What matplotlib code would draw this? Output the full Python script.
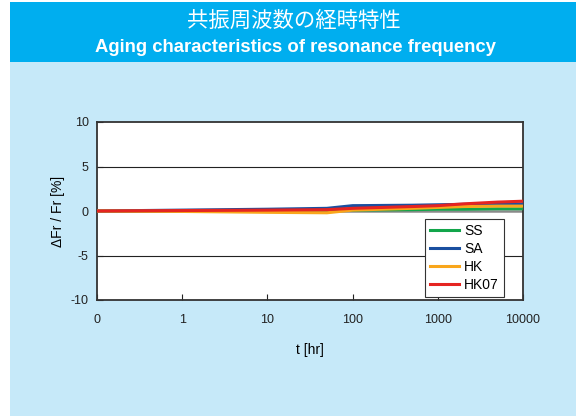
import numpy as np
import matplotlib
matplotlib.use("Agg")
from matplotlib import pyplot as plt
from matplotlib.patches import Rectangle

plt.rcParams['font.family'] = ['Liberation Sans', 'Noto Sans CJK JP', 'DejaVu Sans']
plt.rcParams['axes.unicode_minus'] = False

# hours since start
t = [0, 1, 10, 50, 100, 500, 1000, 2000, 5000, 10000]
ss = [0, 0.0, 0.05, 0.1, 0.1, 0.15, 0.2, 0.2, 0.25, 0.25]
sa = [0, 0.1, 0.2, 0.3, 0.6, 0.65, 0.7, 0.75, 0.8, 0.8]
hk = [0, -0.05, -0.15, -0.2, 0.1, 0.3, 0.4, 0.5, 0.55, 0.55]
hk07 = [0, 0.05, 0.1, 0.15, 0.3, 0.5, 0.6, 0.8, 1.0, 1.1]
names = ["SS", "SA", "HK", "HK07"]
colors = ["#12a54a", "#1a4fa0", "#f9a61b", "#e52421"]
xticks = [0, 1, 10, 100, 1000, 10000]
xlabels = ["0", "1", "10", "100", "1000", "10000"]
yticks = [-10, -5, 0, 5, 10]


def fwd(x):
    x = np.asarray(x, dtype=float)
    return np.where(x < 1, x, 1 + np.log10(np.maximum(x, 1)))


def inv(p):
    p = np.asarray(p, dtype=float)
    return np.where(p < 1, p, 10 ** (p - 1))


W, H = 576, 416
fig = plt.figure(figsize=(W / 100, H / 100), dpi=100)
fig.patch.set_facecolor("white")
fig.patches.append(Rectangle((10 / W, 0), 1, 1 - 62 / H, transform=fig.transFigure,
                             facecolor="#c6e9f9", edgecolor="none", zorder=-2))
fig.patches.append(Rectangle((10 / W, 1 - 62 / H), 1, 60 / H, transform=fig.transFigure,
                             facecolor="#00aeef", edgecolor="none", zorder=-1))
fig.text(294 / W, 1 - 21 / H, "共振周波数の経時特性", color="white", fontsize=15.4,
         ha="center", va="center", family=['Noto Sans CJK JP', 'DejaVu Sans'])
fig.text(295 / W, 1 - 47 / H, "Aging characteristics of resonance frequency", color="white",
         fontsize=13.3, fontweight="bold", ha="center", va="center")

ax = fig.add_axes([97 / W, 1 - 300 / H, 426 / W, 178 / H])
ax.set_facecolor("white")
ax.set_xscale("function", functions=(fwd, inv))
ax.set_xlim(0, 10000)
ax.set_ylim(-10, 10)

for v in [-5, 5]:
    ax.axhline(v, color="#222222", lw=0.8, zorder=1)
ax.axhline(0, color="#8a8a8a", lw=1.8, zorder=1)

for name, ys, c in zip(names, [ss, sa, hk, hk07], colors):
    ax.plot(t, ys, color=c, lw=2.2, label=name, zorder=3)

ax.set_xticks(xticks)
ax.set_xticklabels(xlabels)
ax.xaxis.set_minor_locator(matplotlib.ticker.NullLocator())
ax.set_yticks(yticks)
ax.tick_params(axis="both", direction="in", length=4, width=0.8, labelsize=9,
               colors="#222222")
ax.tick_params(axis="x", pad=10)
ax.tick_params(axis="y", pad=6)
for s in ax.spines.values():
    s.set_color("#333333")
    s.set_linewidth(1.3)

ax.set_xlabel("t [hr]", fontsize=10, labelpad=12)
ax.set_ylabel("ΔFr / Fr [%]", fontsize=10, labelpad=4)

leg = ax.legend(loc="lower right", bbox_to_anchor=(0.955, 0.017), borderaxespad=0,
                fontsize=10, frameon=True, fancybox=False, handlelength=2.1,
                borderpad=0.35, labelspacing=0.3, handletextpad=0.35)
leg.get_frame().set_edgecolor("#333333")
leg.get_frame().set_linewidth(0.8)
leg.get_frame().set_alpha(1)

fig.savefig("out.png", dpi=100)
